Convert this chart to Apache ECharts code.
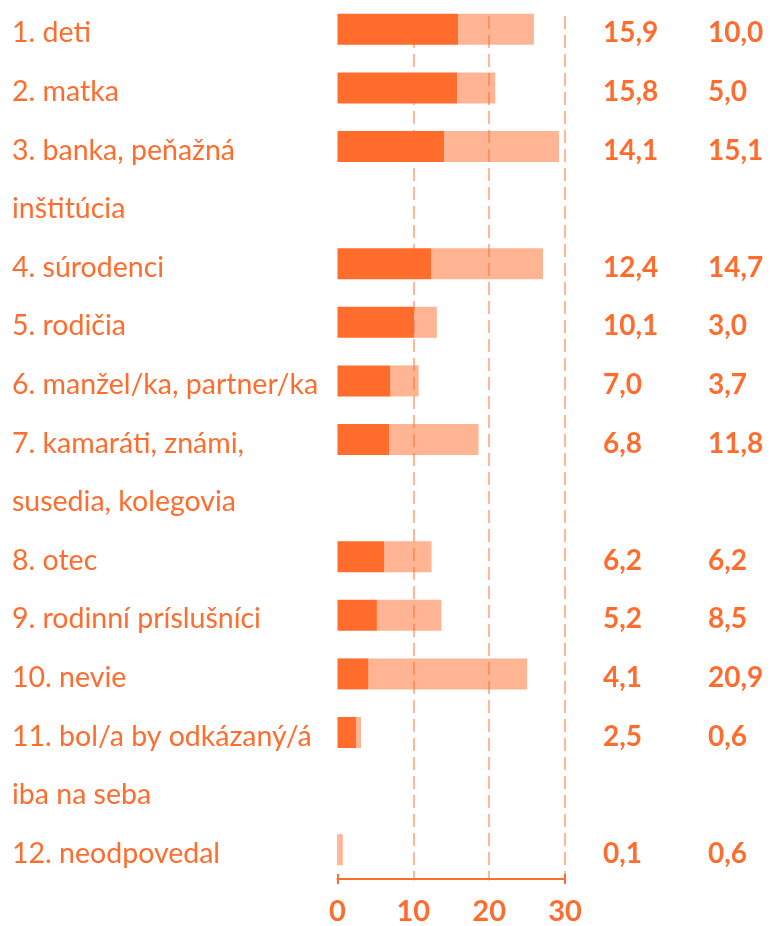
<!DOCTYPE html>
<html><head><meta charset="utf-8">
<script src="https://cdn.jsdelivr.net/npm/echarts@6/dist/echarts.min.js"></script>
<style>html,body{margin:0;padding:0;background:#fff}#c{width:773px;height:926px}</style>
</head><body><div id="c"></div>
<script>
// Row label lines (wrapped labels occupy two rows)
var labelLines = ["1. deti","2. matka","3. banka, peňažná","inštitúcia","4. súrodenci","5. rodičia","6. manžel/ka, partner/ka","7. kamaráti, známi,","susedia, kolegovia","8. otec","9. rodinní príslušníci","10. nevie","11. bol/a by odkázaný/á","iba na seba","12. neodpovedal"];
// first value (dark) and second value (light); null on continuation rows
var valuesA = [15.9,15.8,14.1,null,12.4,10.1,7.0,6.8,null,6.2,5.2,4.1,2.5,null,0.1];
var valuesB = [10.0,5.0,15.1,null,14.7,3.0,3.7,11.8,null,6.2,8.5,20.9,0.6,null,0.6];
var xTicks = [0,10,20,30];

var rows = labelLines.map(function(_,i){return 'r'+i;});
var fmt = function(v){return v==null?'':v.toFixed(1).replace('.',',');};
var C1='#ff6c2c', C2='#ffb493', TXT='#ff6d2e', FONT='Lato';
var wrap = function(s){return s===''?'':'{t|'+s+'}';};
var richReg = {t:{fontFamily:FONT,fontSize:28.5,color:TXT,padding:[8,0,0,0]}};
var richBold = {t:{fontFamily:FONT,fontSize:28,fontWeight:'bold',color:TXT,padding:[8,0,0,0]}};

var chart = echarts.init(document.getElementById('c'));
chart.setOption({
  animation:false,
  grid:[
    {left:337.5,right:208,top:0,bottom:45.5},
    {left:337.5,right:208,top:16,bottom:45.5}
  ],
  xAxis:[
    {type:'value',gridIndex:0,min:0,max:30,interval:10,
     axisLine:{show:true,lineStyle:{color:TXT,width:2}},
     axisTick:{show:true,customValues:[0,30],length:5,lineStyle:{color:TXT,width:2}},
     axisLabel:{color:TXT,fontFamily:FONT,fontWeight:'bold',fontSize:29,margin:18,
       formatter:function(v){return xTicks.indexOf(v)>=0?String(v):'';}},
     splitLine:{show:false}},
    {type:'value',gridIndex:1,min:0,max:30,interval:10,z:5,
     axisLine:{show:false},axisTick:{show:false},axisLabel:{show:false},
     splitLine:{show:true,showMinLine:false,lineStyle:{color:'rgba(255,109,46,0.65)',width:1.5,type:[13,6]}}},
    {type:'value',gridIndex:0,min:0,max:30,interval:10,position:'bottom',
     axisLine:{show:false},axisLabel:{show:false},splitLine:{show:false},
     axisTick:{show:true,inside:true,customValues:[0,30],length:5,lineStyle:{color:TXT,width:2}}}
  ],
  yAxis:[
    {type:'category',gridIndex:0,data:rows,inverse:true,
     axisLine:{show:false},axisTick:{show:false},
     axisLabel:{align:'left',margin:325.5,rich:richReg,
       formatter:function(v,i){return wrap(labelLines[i]);}}},
    {type:'category',gridIndex:0,data:rows,inverse:true,position:'right',
     axisLine:{show:false},axisTick:{show:false},
     axisLabel:{align:'left',margin:38,rich:richBold,
       formatter:function(v,i){return wrap(fmt(valuesA[i]));}}},
    {type:'category',gridIndex:0,data:rows,inverse:true,position:'right',
     axisLine:{show:false},axisTick:{show:false},
     axisLabel:{align:'left',margin:143,rich:richBold,
       formatter:function(v,i){return wrap(fmt(valuesB[i]));}}},
    {type:'value',gridIndex:1,show:false}
  ],
  series:[
    {type:'bar',stack:'s',xAxisIndex:0,yAxisIndex:0,data:valuesA,barWidth:31,itemStyle:{color:C1}},
    {type:'bar',stack:'s',xAxisIndex:0,yAxisIndex:0,data:valuesB,barWidth:31,itemStyle:{color:C2}}
  ]
});
</script></body></html>
